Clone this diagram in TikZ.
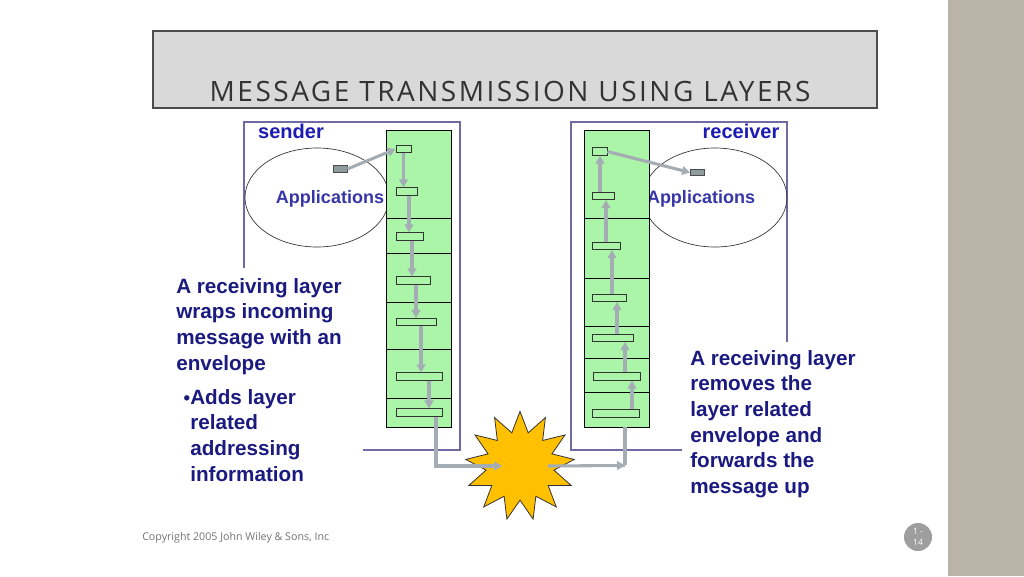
\documentclass[tikz,border=0pt]{standalone}
\usepackage{fontspec}
\setmainfont{Liberation Sans}
\newfontfamily\titlefont[LetterSpace=9]{Open Sans}
\newfontfamily\smallfont{Open Sans}
\usetikzlibrary{shapes.geometric,arrows.meta,calc}
\definecolor{band}{HTML}{B8B4A8}
\definecolor{titlebg}{HTML}{D9D9D9}
\definecolor{framec}{HTML}{6E6AA6}
\definecolor{lbl}{HTML}{1C1CB4}
\definecolor{appc}{HTML}{3636A8}
\definecolor{body}{HTML}{1A1A80}
\definecolor{stackg}{HTML}{AAF5A8}
\definecolor{flowc}{HTML}{A3ADB3}
\definecolor{appbox}{HTML}{8E9C9C}
\definecolor{starc}{HTML}{FFC000}
\tikzset{
  x=0.75pt, y=-0.75pt,
  env/.style={draw=black!80, fill=stackg, line width=0.6pt, inner sep=0pt, minimum height=5.5pt},
  stackbox/.style={draw=black, fill=stackg, line width=0.7pt, inner sep=0pt},
  frame/.style={draw=framec, line width=0.8pt},
  flow/.style={draw=flowc, line width=2.3pt, -{Triangle[length=6pt,width=6.5pt]}},
  flowline/.style={draw=flowc, line width=2.3pt},
  bodytxt/.style={text=body, font=\fontsize{15.5}{19.2}\selectfont\bfseries, align=left, anchor=north west, inner sep=0pt},
  appbx/.style={draw=black!70, fill=appbox, line width=0.6pt, inner sep=0pt, minimum width=10.5pt, minimum height=5pt}
}
\begin{document}
\begin{tikzpicture}
\useasboundingbox (0,0) rectangle (1024,576);
\fill[white] (0,0) rectangle (1024,576);
\fill[band] (948,0) rectangle (1024,576);
% title
\node[draw=black!70, fill=titlebg, line width=1.5pt, minimum width=543pt, minimum height=57.75pt] (title) at (515,69.5) {};
\node[text=black!80, font=\titlefont\fontsize{21}{24}\selectfont, anchor=base] (ttext) at (510,101) {MESSAGE TRANSMISSION USING LAYERS};
% frames
\draw[frame] (244,268) -- (244,122) -- (460,122) -- (460,450) -- (363,450);
\draw[frame] (682,450) -- (571,450) -- (571,122) -- (787,122) -- (787,342);
\node[text=lbl, font=\fontsize{15}{18}\selectfont\bfseries] (snd) at (291,131) {sender};
\node[text=lbl, font=\fontsize{15}{18}\selectfont\bfseries] (rcv) at (741,131) {receiver};
% ellipses
\draw[black!80, line width=0.5pt] (317,197.5) ellipse [x radius=72, y radius=49.5];
\draw[black!80, line width=0.5pt] (715,197.5) ellipse [x radius=72, y radius=49.5];
\node[text=appc, font=\fontsize{13.5}{16}\selectfont\bfseries] (rapptxt) at (701,199) {Applications};
% stacks
\node[stackbox, minimum width=48.75pt, minimum height=222.75pt] (sstack) at (418.5,278.5) {};
\node[stackbox, minimum width=48.75pt, minimum height=222.75pt] (rstack) at (616.5,278.5) {};
\foreach \y in {218,253,302,349,398} \draw[line width=0.7pt] (386,\y) -- (451,\y);
\foreach \y in {218,278,326,358,392} \draw[line width=0.7pt] (584,\y) -- (649,\y);
\node[text=appc, font=\fontsize{13.5}{16}\selectfont\bfseries] (sapptxt) at (330,199) {Applications};
% sender envelopes
\node[env, minimum width=15*0.75pt] (s1) at (403.5,149) {};
\node[env, minimum width=21*0.75pt] (s2) at (406.5,191.5) {};
\node[env, minimum width=27*0.75pt] (s3) at (409.5,236.5) {};
\node[env, minimum width=34*0.75pt] (s4) at (413,280.5) {};
\node[env, minimum width=40*0.75pt] (s5) at (416,322) {};
\node[env, minimum width=46*0.75pt] (s6) at (419,376.5) {};
\node[env, minimum width=46*0.75pt] (s7) at (419,412.5) {};
\node[appbx] (sapp) at (340,169) {};
% receiver envelopes
\node[env, minimum width=15*0.75pt] (r1) at (599.5,151.5) {};
\node[env, minimum width=22*0.75pt] (r2) at (603,196) {};
\node[env, minimum width=28*0.75pt] (r3) at (606,246) {};
\node[env, minimum width=34*0.75pt] (r4) at (609,298) {};
\node[env, minimum width=41*0.75pt] (r5) at (612.5,338) {};
\node[env, minimum width=47*0.75pt] (r6) at (616.5,376.5) {};
\node[env, minimum width=47*0.75pt] (r7) at (615.5,413.5) {};
\node[appbx] (rapp) at (697.5,172.5) {};
% sender arrows
\draw[flow] (sapp.east) -- (s1.west);
\draw[flow] (s1.south) coordinate (t1) -- (t1 |- s2.north);
\draw[flow] ($(s2.south)+(2.5,0)$) coordinate (t2) -- (t2 |- s3.north);
\draw[flow] ($(s3.south)+(2.5,0)$) coordinate (t3) -- (t3 |- s4.north);
\draw[flow] ($(s4.south)+(3,0)$) coordinate (t4) -- (t4 |- s5.north);
\draw[flow] ($(s5.south)+(5,0)$) coordinate (t5) -- (t5 |- s6.north);
\draw[flow] ($(s6.south)+(10,0)$) coordinate (t6) -- (t6 |- s7.north);
% star
\node[star, star points=13, star point ratio=1.6, minimum size=82pt, inner sep=0pt, draw=black!80, fill=starc, line width=0.6pt] (star) at (520,466) {};
\draw[flowline] ($(s7.south)+(17,0)$) coordinate (t7) |- ($(star.center)+(-20,0)$) coordinate (sin);
\draw[flow] ($(sin)+(-5,0)$) -- ($(star.center)+(-18,0)$);
\draw[flowline] ($(star.center)+(28,0)$) coordinate (sout) -- ($(rstack.south)+(8.5,38)$) coordinate (rin);
\draw[flow] ($(rin)+(-20,0)$) -- (rin);
\draw[flowline] (rin) -- (rin |- rstack.south);
% receiver arrows
\draw[flow] ($(r7.north)+(16.5,0)$) coordinate (u7) -- (u7 |- r6.south);
\draw[flow] ($(r6.north)+(8.5,0)$) coordinate (u6) -- (u6 |- r5.south);
\draw[flow] ($(r5.north)+(4.5,0)$) coordinate (u5) -- (u5 |- r4.south);
\draw[flow] ($(r4.north)+(3,0)$) coordinate (u4) -- (u4 |- r3.south);
\draw[flow] (r3.north) coordinate (u3) -- (u3 |- r2.south);
\draw[flow] ($(r2.north)+(-3,0)$) coordinate (u2) -- (u2 |- r1.south);
\draw[flow] (r1.east) -- (rapp.west);
% texts
\node[bodytxt] (ltxt) at (176,278) {A receiving layer\\wraps incoming\\message with an\\envelope};
\node[text=body, font=\fontsize{14}{15}\selectfont\bfseries, inner sep=0pt] (bul) at (187,400) {\textbullet};
\node[bodytxt] (btxt) at (190,389) {Adds layer\\related\\addressing\\information};
\node[bodytxt] (rtxt) at (690,350) {A receiving layer\\removes the\\layer related\\envelope and\\forwards the\\message up};
% footer
\node[text=black!55, font=\smallfont\fontsize{8}{9}\selectfont, anchor=west, inner sep=0pt] (copy) at (142,538) {Copyright 2005 John Wiley \& Sons, Inc};
\node[circle, fill=black!38, minimum size=21pt, inner sep=0pt, text=white, font=\smallfont\fontsize{6.5}{8}\selectfont, align=center] (pg) at (918,537) {1 -\\14};
\end{tikzpicture}
\end{document}
